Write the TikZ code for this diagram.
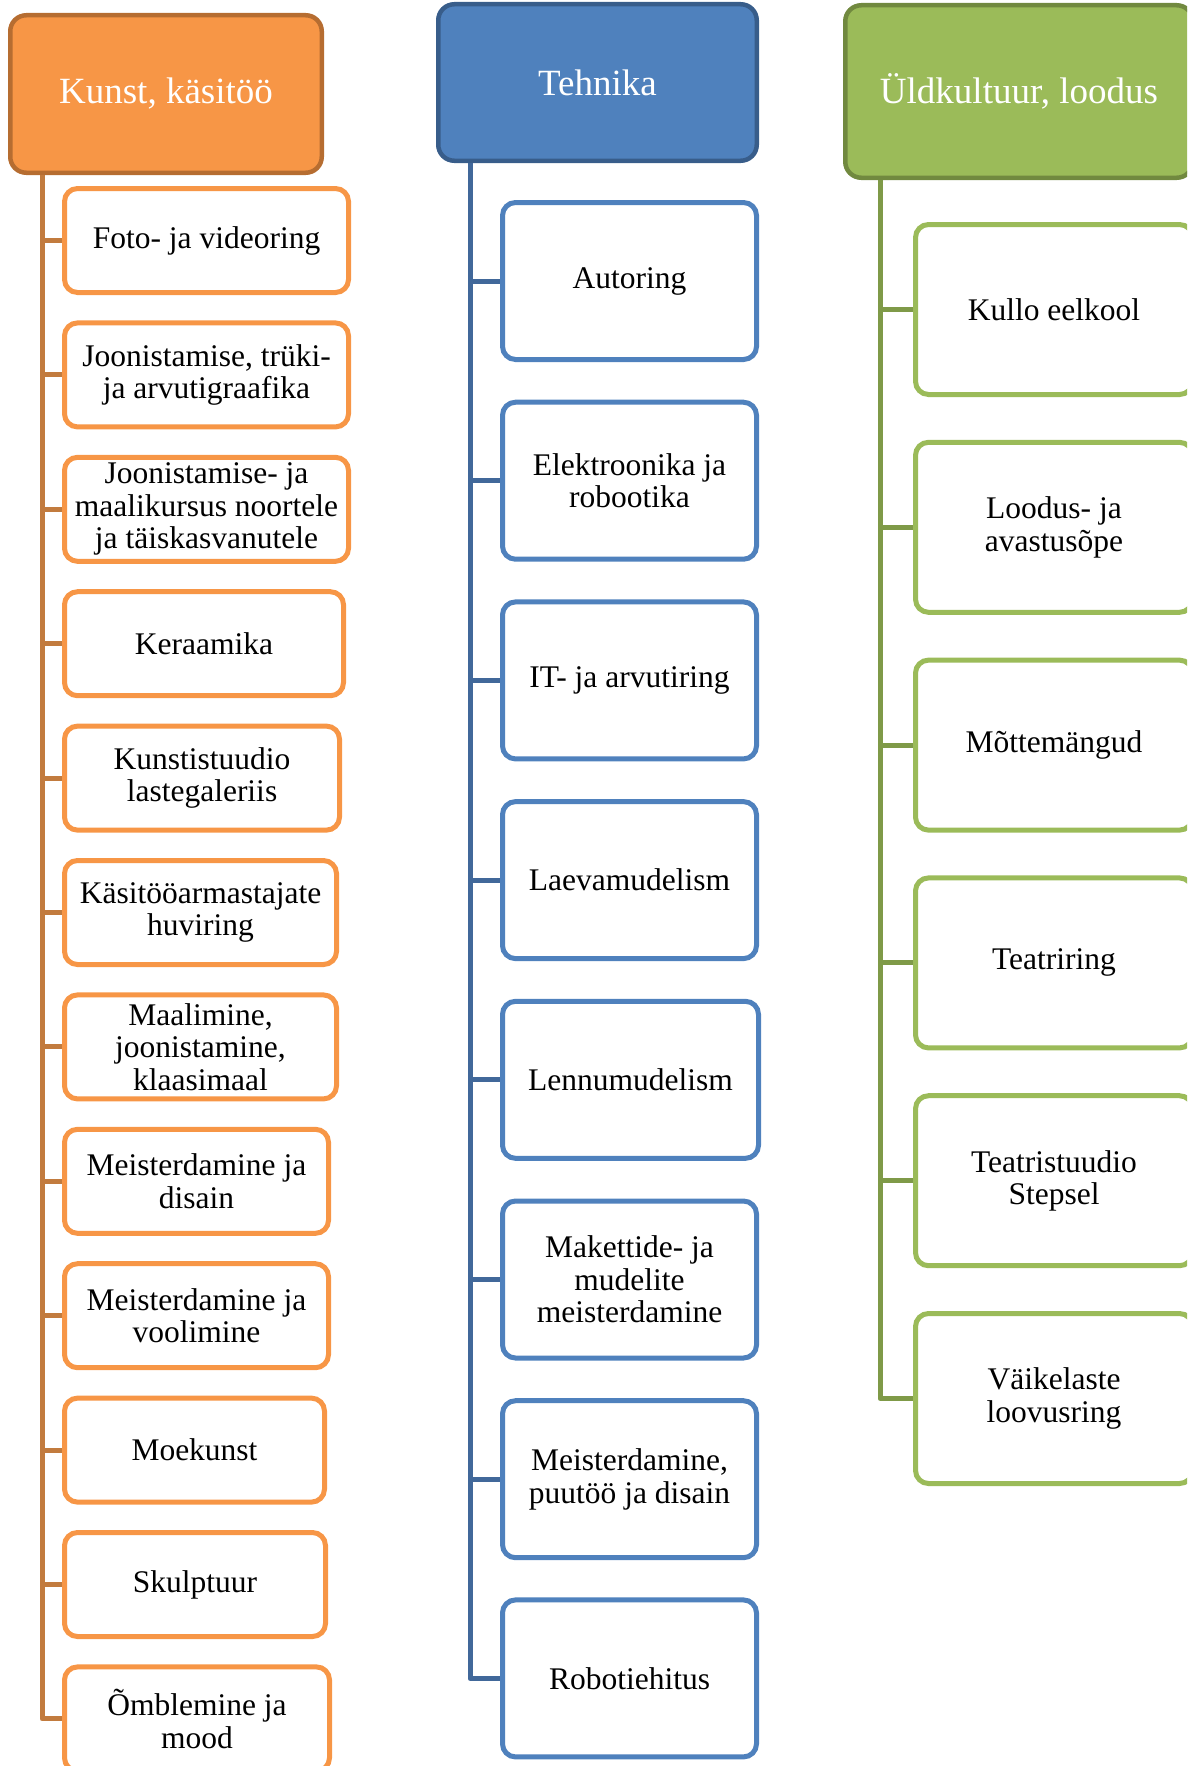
\documentclass[tikz,border=0pt]{standalone}
\usepackage{fontspec}
\setmainfont{Liberation Serif}
\definecolor{ofill}{HTML}{F79646}
\definecolor{oborder}{HTML}{B66D31}
\definecolor{otrunk}{HTML}{C27B3E}
\definecolor{bfill}{HTML}{4F81BD}
\definecolor{bborder}{HTML}{385D8A}
\definecolor{btrunk}{HTML}{41689A}
\definecolor{gfill}{HTML}{9BBB59}
\definecolor{gborder}{HTML}{71893F}
\definecolor{gtrunk}{HTML}{7F9A48}
\begin{document}
\begin{tikzpicture}[x=1pt,y=-1pt,
  hdr/.style={rectangle, rounded corners=16pt, line width=4.5pt, text=white,
    font=\fontsize{37}{40}\selectfont, align=center, inner sep=0pt},
  ohdr/.style={hdr, fill=ofill, draw=oborder},
  bhdr/.style={hdr, fill=bfill, draw=bborder},
  ghdr/.style={hdr, fill=gfill, draw=gborder},
  child/.style={rectangle, rounded corners=13pt, line width=5pt, fill=white, text=black,
    font=\fontsize{31.5}{32.5}\selectfont, align=center, inner sep=0pt},
  ochild/.style={child, draw=ofill, minimum height=104pt},
  bchild/.style={child, draw=bfill, minimum height=157pt, minimum width=254pt},
  gchild/.style={child, draw=gfill, minimum height=170pt, minimum width=277pt},
  otr/.style={draw=otrunk, line width=5pt, line join=round},
  btr/.style={draw=btrunk, line width=5pt, line join=round},
  gtr/.style={draw=gtrunk, line width=5pt, line join=round},
]
\useasboundingbox (0,0) rectangle (1187,1766);
\clip (0,0) rectangle (1187,1766);

% ---------- Orange column ----------
\node[ohdr, minimum width=311.5pt, minimum height=157.5pt] (oh) at (166,94) {Kunst, käsitöö};
\coordinate (otop) at (42,175);
\node[ochild, minimum width=284pt] (o1) at (206.5,240.5) {Foto- ja videoring};
\node[ochild, minimum width=284pt] (o2) at (206.5,374.9) {Joonistamise, trüki-\\ja arvutigraafika};
\node[ochild, minimum width=284pt] (o3) at (206.5,509.3) {Joonistamise- ja\\maalikursus noortele\\ja täiskasvanutele};
\node[ochild, minimum width=279pt] (o4) at (204,643.7) {Keraamika};
\node[ochild, minimum width=275pt] (o5) at (202,778.1) {Kunstistuudio\\lastegaleriis};
\node[ochild, minimum width=272pt] (o6) at (200.5,912.5) {Käsitööarmastajate\\huviring};
\node[ochild, minimum width=272pt] (o7) at (200.5,1046.9) {Maalimine,\\joonistamine,\\klaasimaal};
\node[ochild, minimum width=264pt] (o8) at (196.5,1181.3) {Meisterdamine ja\\disain};
\node[ochild, minimum width=264pt] (o9) at (196.5,1315.7) {Meisterdamine ja\\voolimine};
\node[ochild, minimum width=260pt] (o10) at (194.5,1450.1) {Moekunst};
\node[ochild, minimum width=261pt] (o11) at (195,1584.5) {Skulptuur};
\node[ochild, minimum width=265pt] (o12) at (197,1718.9) {Õmblemine ja\\mood};
\draw[otr] (oh.south -| otop) |- (o12.west);
\foreach \n in {o1,o2,o3,o4,o5,o6,o7,o8,o9,o10,o11}
  \draw[otr] (\n.west -| otop) -- (\n.west);

% ---------- Blue column ----------
\node[bhdr, minimum width=318.5pt, minimum height=156.5pt] (bh) at (597.5,82.5) {Tehnika};
\coordinate (btop) at (470,163);
\node[bchild] (b1) at (629.5,281) {Autoring};
\node[bchild] (b2) at (629.5,480.7) {Elektroonika ja\\robootika};
\node[bchild] (b3) at (629.5,680.4) {IT- ja arvutiring};
\node[bchild] (b4) at (629.5,880.1) {Laevamudelism};
\node[bchild, minimum width=256pt] (b5) at (630.5,1079.8) {Lennumudelism};
\node[bchild] (b6) at (629.5,1279.5) {Makettide- ja\\mudelite\\meisterdamine};
\node[bchild] (b7) at (629.5,1479.2) {Meisterdamine,\\puutöö ja disain};
\node[bchild] (b8) at (629.5,1678.4) {Robotiehitus};
\draw[btr] (bh.south -| btop) |- (b8.west);
\foreach \n in {b1,b2,b3,b4,b5,b6,b7}
  \draw[btr] (\n.west -| btop) -- (\n.west);

% ---------- Green column ----------
\node[ghdr, minimum width=347.5pt, minimum height=172.5pt] (gh) at (1019,91.5) {Üldkultuur, loodus};
\coordinate (gtop) at (880,180);
\node[gchild] (g1) at (1054,309.5) {Kullo eelkool};
\node[gchild] (g2) at (1054,527.3) {Loodus- ja\\avastusõpe};
\node[gchild] (g3) at (1054,745.1) {Mõttemängud};
\node[gchild] (g4) at (1054,962.9) {Teatriring};
\node[gchild] (g5) at (1054,1180.7) {Teatristuudio\\Stepsel};
\node[gchild] (g6) at (1054,1398.5) {Väikelaste\\loovusring};
\draw[gtr] (gh.south -| gtop) |- (g6.west);
\foreach \n in {g1,g2,g3,g4,g5}
  \draw[gtr] (\n.west -| gtop) -- (\n.west);
\end{tikzpicture}
\end{document}
